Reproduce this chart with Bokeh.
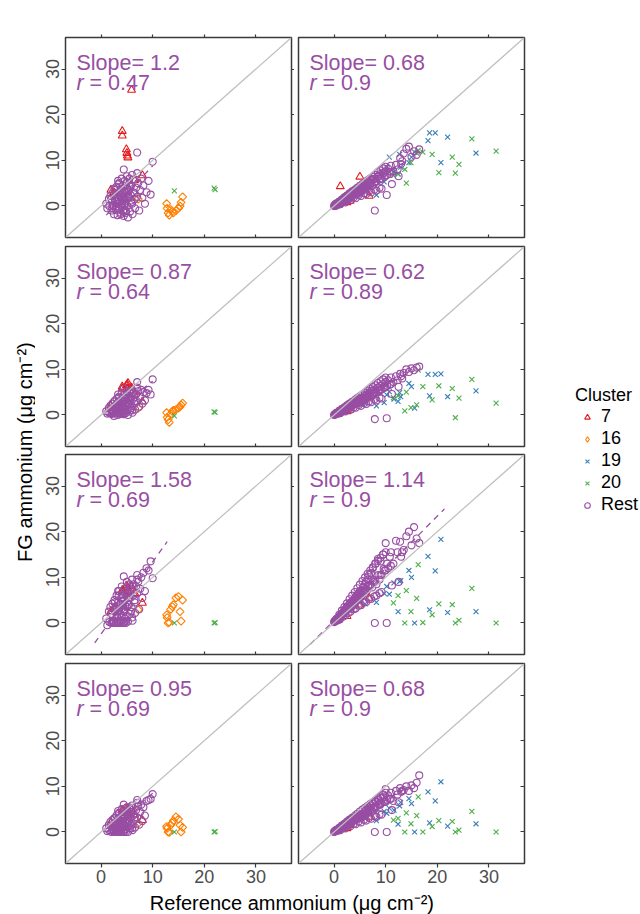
import math
from bokeh.plotting import figure
from bokeh.models import (Range1d, LinearAxis, FixedTicker, Label, Slope, Legend, LegendItem)
from bokeh.layouts import row, column
from bokeh.embed import file_html
from bokeh.resources import INLINE

FONT = "Liberation Sans"
PURPLE = "#984EA3"; RED = "#E41A1C"; ORANGE = "#FF7F00"; BLUE = "#377EB8"; GREEN = "#4DAF4A"
FRAME = "#3a3a3a"; TICKLAB = "#4D4D4D"

# ---------------- data ----------------
col_names = ["Urban", "Rural"]
methods = ["PLSr", "PLSbc", "PFo", "PFr"]
clusters = ["7", "16", "19", "20", "Rest"]

urban_slope_txt = ["1.2", "0.87", "1.58", "0.95"]
urban_r_txt = ["0.47", "0.64", "0.69", "0.69"]
rural_slope_txt = ["0.68", "0.62", "1.14", "0.68"]
rural_r_txt = ["0.9", "0.89", "0.9", "0.9"]

# regression lines (slope, intercept, x extent)
urban_fit_slope = [1.2, 0.87, 1.58, 0.95]
urban_fit_icpt = [-3.2, -1.3, -2.41, -1.0]
urban_fit_x0 = [1.0, 1.2, -1.24, 1.0]
urban_fit_x1 = [10.0, 10.0, 12.8, 10.0]
rural_fit_slope = [0.68, 0.62, 1.14, 0.68]
rural_fit_icpt = [0.3, 0.3, 0.6, 0.2]
rural_fit_x0 = [0.0, 0.0, -4.66, 0.0]
rural_fit_x1 = [14.0, 14.0, 21.4, 14.0]

# Urban, cluster "Rest"
u_rest_x = [1.0, 1.2, 1.5, 1.6, 1.8, 2.0, 2.1, 2.2, 2.3, 2.5,
            2.6, 2.7, 2.8, 3.0, 3.0, 3.1, 3.2, 3.3, 3.4, 3.5,
            3.5, 3.6, 3.7, 3.8, 3.9, 4.0, 4.0, 4.1, 4.2, 4.3,
            4.4, 4.5, 4.5, 4.6, 4.7, 4.8, 4.9, 5.0, 5.0, 5.1,
            5.2, 5.3, 5.4, 5.5, 5.6, 5.7, 5.8, 5.9, 6.0, 6.1,
            6.2, 6.3, 6.5, 6.6, 6.8, 7.0, 7.0, 7.2, 7.4, 7.6,
            7.8, 8.0, 8.2, 8.5, 8.8, 9.2, 9.6, 10.0, 4.4, 7.0,
            2.0, 2.4, 2.8, 3.2, 3.6, 4.0, 4.4, 4.8, 5.2, 5.6,
            2.2, 2.6, 3.0, 3.4, 3.8, 4.2, 4.6, 5.0, 5.4, 5.8,
            3.0, 3.5, 4.0, 4.5, 5.0, 5.5, 6.0, 6.5, 3.3, 4.3]
u_rest_plsr = [0.5, -0.5, 1.5, 0.0, 2.2, -1.0, 1.0, 2.8, 0.2, -1.8,
               3.5, 1.2, -0.8, 2.0, 4.2, 0.5, -2.0, 3.0, 1.5, -0.5,
               5.0, 2.5, 0.8, -1.5, 3.8, 1.8, 6.0, -0.2, 4.5, 2.2,
               -2.2, 3.2, 0.5, 5.5, 1.0, -1.0, 2.8, 4.0, 6.5, 0.0,
               -2.5, 3.5, 1.8, 5.0, -1.2, 2.5, 4.5, 0.8, 6.8, -1.8,
               3.0, 5.8, 1.5, -0.5, 4.0, 2.0, 7.2, 5.0, -1.0, 3.5,
               6.0, 1.8, 4.5, 0.5, 3.0, 5.5, 2.5, 9.7, 8.0, 11.7,
               1.5, 0.0, 2.5, -1.0, 3.0, 0.5, 1.8, -1.5, 2.2, 4.2,
               -0.5, 3.8, 1.0, 4.8, -1.8, 2.8, 0.2, 5.2, 3.2, 1.2,
               0.0, 1.5, 3.2, -0.8, 1.8, 6.0, 0.5, 2.8, 5.5, -1.2]
u_rest_plsbc = [0.8, 0.3, 1.5, 0.5, 2.0, 0.2, 1.2, 2.5, 0.8, -0.2,
                3.0, 1.5, 0.5, 2.2, 3.5, 1.0, 0.0, 2.8, 1.8, 0.6,
                4.0, 2.5, 1.2, 0.3, 3.2, 2.0, 4.8, 0.8, 3.8, 2.5,
                0.2, 3.0, 1.5, 4.5, 2.0, 0.8, 3.5, 2.8, 5.2, 1.2,
                0.0, 3.8, 2.5, 4.8, 1.0, 3.2, 4.2, 2.0, 5.5, 0.5,
                3.5, 5.0, 2.5, 1.2, 4.5, 3.0, 6.0, 5.2, 1.8, 4.0,
                5.5, 2.5, 5.0, 3.2, 4.8, 5.5, 4.5, 7.8, 5.8, 7.2,
                1.2, 0.6, 2.0, 0.3, 2.5, 1.0, 1.8, 0.4, 2.4, 3.8,
                0.4, 3.0, 1.0, 3.8, 0.2, 2.8, 0.8, 4.2, 3.2, 1.5,
                0.6, 1.6, 3.0, 0.5, 2.0, 5.0, 1.0, 3.0, 4.5, 0.2]
u_rest_pfo = [1.0, -0.5, 2.5, 0.2, 3.5, 0.0, 1.8, 4.2, 0.5, 0.0,
              5.0, 2.5, 0.0, 3.5, 6.0, 1.5, 0.2, 4.5, 2.8, 0.0,
              7.0, 4.0, 2.0, 0.3, 5.5, 3.2, 8.0, 0.5, 6.2, 4.2,
              0.0, 5.0, 2.5, 7.5, 3.8, 0.5, 6.0, 4.5, 9.0, 1.5,
              0.3, 6.5, 4.0, 8.0, 2.0, 5.5, 7.5, 3.5, 9.5, 0.5,
              6.0, 8.5, 4.5, 2.2, 8.0, 6.5, 10.5, 9.0, 3.0, 7.5,
              10.0, 5.5, 11.0, 7.0, 12.0, 11.5, 13.5, 9.8, 10.2, 9.5,
              2.0, 0.5, 3.2, 0.0, 4.0, 1.5, 3.0, 0.0, 4.0, 6.5,
              0.2, 4.5, 1.5, 6.0, 0.0, 4.8, 1.0, 7.0, 5.5, 2.5,
              0.5, 2.5, 5.5, 0.3, 3.5, 8.5, 1.2, 5.0, 7.0, 0.0]
u_rest_pfr = [0.8, 0.2, 1.5, 0.4, 2.2, 0.0, 1.0, 2.6, 0.6, 0.0,
              3.0, 1.4, 0.2, 2.0, 3.6, 0.8, 0.0, 2.8, 1.6, 0.4,
              4.2, 2.4, 1.0, 0.0, 3.2, 1.8, 5.0, 0.6, 3.8, 2.4,
              0.0, 3.0, 1.4, 4.6, 2.0, 0.6, 3.6, 2.8, 5.4, 1.0,
              0.0, 3.8, 2.4, 5.0, 0.8, 3.2, 4.4, 1.8, 5.8, 0.4,
              3.6, 5.2, 2.6, 1.0, 4.8, 3.2, 6.4, 5.6, 1.6, 4.4,
              6.0, 2.4, 5.4, 3.6, 6.8, 7.0, 7.2, 8.3, 6.0, 7.0,
              1.2, 0.4, 2.0, 0.0, 2.6, 0.8, 1.8, 0.0, 2.4, 4.0,
              0.2, 3.0, 0.8, 4.0, 0.0, 3.0, 0.6, 4.6, 3.4, 1.4,
              0.4, 1.6, 3.4, 0.2, 2.2, 5.4, 0.8, 3.2, 4.6, 0.0]

# Urban, cluster 7
u_c7_x = [5.9, 4.1, 4.1, 4.9, 5.0, 5.1, 5.2, 1.9, 6.5, 8.0, 2.5]
u_c7_plsr = [25.4, 16.4, 15.4, 12.4, 11.6, 11.0, 10.6, 3.5, 5.6, 6.7, 3.0]
u_c7_plsbc = [6.0, 5.8, 6.2, 6.5, 5.8, 6.6, 7.0, 2.0, 4.5, 2.9, 1.5]
u_c7_pfo = [8.0, 7.2, 6.8, 8.2, 7.5, 7.8, 7.0, 2.6, 6.5, 4.4, 3.2]
u_c7_pfr = [5.0, 4.6, 4.8, 5.2, 4.2, 4.8, 4.0, 2.0, 3.8, 2.6, 1.5]

# Urban, cluster 16
u_c16_x = [7.2, 12.7, 12.8, 13.0, 13.2, 13.5, 13.8, 14.0, 14.5, 15.0, 15.3, 15.5, 15.8]
u_c16_plsr = [1.5, 0.5, -0.5, -1.5, -2.0, -0.8, -1.2, -1.5, -1.0, -0.5, 0.0, 0.8, 2.0]
u_c16_plsbc = [1.5, 0.5, -0.5, -1.0, -1.6, 0.2, 0.8, 1.0, 1.2, 1.5, 1.8, 2.2, 2.6]
u_c16_pfo = [2.9, 1.8, 1.2, 0.0, 0.2, 3.0, 3.6, 4.0, 5.5, 5.8, 2.5, 0.4, 5.0]
u_c16_pfr = [1.9, 1.2, 0.8, 0.0, -0.1, 1.5, 2.0, 2.5, 3.3, 2.8, 1.5, 0.0, 1.0]

# Urban, cluster 19
u_c19_x = [4.5]
u_c19_plsr = [0.9]
u_c19_plsbc = [0.6]
u_c19_pfo = [3.3]
u_c19_pfr = [1.9]

# Urban, cluster 20
u_c20_x = [14.2, 21.9, 22.1]
u_c20_plsr = [3.3, 3.9, 3.6]
u_c20_plsbc = [-0.2, 0.7, 0.6]
u_c20_pfo = [0.0, 0.0, 0.1]
u_c20_pfr = [0.0, 0.0, 0.1]

# Rural, cluster "Rest"
r_rest_x = [0.0, 0.1, 0.2, 0.3, 0.3, 0.4, 0.5, 0.5, 0.6, 0.7,
            0.8, 0.9, 1.0, 1.0, 1.1, 1.2, 1.3, 1.4, 1.5, 1.5,
            1.6, 1.7, 1.8, 1.9, 2.0, 2.0, 2.1, 2.2, 2.3, 2.4,
            2.5, 2.5, 2.6, 2.7, 2.8, 2.9, 3.0, 3.0, 3.1, 3.2,
            3.3, 3.4, 3.5, 3.5, 3.6, 3.7, 3.8, 3.9, 4.0, 4.0,
            4.1, 4.2, 4.3, 4.4, 4.5, 4.6, 4.7, 4.8, 4.9, 5.0,
            5.0, 5.1, 5.2, 5.4, 5.5, 5.6, 5.8, 6.0, 6.0, 6.2,
            6.4, 6.5, 6.6, 6.8, 7.0, 7.2, 7.4, 7.5, 7.8, 8.0,
            8.2, 8.5, 8.8, 9.0, 9.2, 9.5, 9.8, 10.0, 10.3, 10.5,
            10.8, 11.0, 11.5, 12.0, 12.3, 12.8, 13.0, 13.5, 14.0, 14.5,
            15.0, 15.5, 16.0, 16.5, 7.9, 10.2,
            0.5, 1.0, 1.5, 2.0, 2.5, 3.0, 3.5, 4.0, 4.5, 5.0,
            5.5, 6.0, 6.5, 7.0, 7.5, 8.0, 8.5, 9.0, 9.5, 10.0,
            1.2, 2.2, 3.2, 4.2, 5.2, 6.2, 7.2, 8.2, 9.2, 11.2,
            0.8, 1.8, 2.8, 3.8, 4.8, 5.8, 6.8, 7.8, 8.8, 12.5,
            2.0, 3.0, 4.0, 5.0, 6.0, 7.0, 8.0, 9.0, 10.0, 11.0,
            1.4, 2.6, 3.6, 4.6, 5.6, 6.6, 7.6, 8.6, 9.6, 13.2]
r_rest_plsr = [0.0, 0.2, 0.0, 0.4, 0.1, 0.3, 0.5, 0.2, 0.5, 0.4,
               0.7, 0.5, 0.8, 0.4, 0.9, 0.6, 1.0, 0.8, 1.2, 0.7,
               1.3, 0.9, 1.5, 1.0, 1.6, 1.1, 1.8, 1.2, 1.7, 2.0,
               1.5, 2.2, 1.8, 2.0, 2.4, 1.6, 2.2, 2.6, 1.9, 2.5,
               2.8, 2.0, 2.6, 3.0, 2.2, 2.9, 2.5, 3.2, 2.6, 3.4,
               2.8, 3.3, 2.6, 3.6, 3.0, 3.4, 2.8, 3.8, 3.2, 3.5,
               4.0, 3.0, 3.8, 3.4, 4.2, 3.6, 4.0, 4.5, 3.6, 4.6,
               4.2, 5.0, 4.0, 5.2, 4.6, 5.6, 4.4, 5.8, 5.2, 6.0,
               5.4, 6.4, 5.8, 7.0, 6.0, 7.2, 6.4, 7.6, 6.8, 8.2,
               7.0, 8.8, 7.6, 9.0, 8.0, 10.5, 9.2, 11.5, 12.5, 13.0,
               10.8, 12.0, 11.2, 12.4, -1.0, 2.4,
               0.6, 1.0, 1.4, 1.9, 2.3, 2.8, 3.2, 3.6, 4.0, 4.4,
               4.8, 5.2, 5.6, 6.0, 6.4, 6.8, 7.4, 7.8, 8.2, 8.6,
               0.4, 0.8, 1.3, 1.7, 2.2, 2.6, 3.0, 3.4, 3.8, 4.8,
               0.3, 0.9, 1.4, 1.9, 2.4, 2.8, 3.2, 3.6, 4.0, 6.5,
               1.4, 2.0, 2.7, 3.4, 4.0, 4.7, 5.3, 6.0, 6.7, 7.5,
               1.1, 2.0, 2.8, 3.5, 4.3, 5.0, 5.8, 6.6, 7.2, 9.8]
r_rest_plsbc = [0.0, 0.1, 0.1, 0.3, 0.2, 0.3, 0.4, 0.3, 0.5, 0.4,
                0.6, 0.5, 0.7, 0.5, 0.8, 0.6, 0.9, 0.8, 1.0, 0.8,
                1.1, 0.9, 1.3, 1.0, 1.4, 1.1, 1.5, 1.2, 1.6, 1.7,
                1.4, 1.9, 1.6, 1.8, 2.0, 1.6, 2.0, 2.3, 1.8, 2.2,
                2.4, 1.9, 2.4, 2.7, 2.1, 2.6, 2.3, 2.8, 2.4, 3.0,
                2.6, 2.9, 2.5, 3.2, 2.8, 3.1, 2.6, 3.4, 3.0, 3.2,
                3.6, 2.9, 3.4, 3.2, 3.8, 3.3, 3.7, 4.2, 3.4, 4.3,
                3.9, 4.6, 3.8, 4.8, 4.3, 5.2, 4.2, 5.4, 4.8, 5.6,
                5.0, 6.0, 5.4, 6.4, 5.6, 6.8, 6.0, 7.2, 6.4, 7.6,
                6.6, 8.2, 7.2, 8.5, 7.6, 9.0, 8.5, 9.2, 10.0, 9.4,
                10.2, 9.8, 10.4, 10.6, -0.9, -0.7,
                0.5, 0.9, 1.3, 1.7, 2.1, 2.5, 2.9, 3.3, 3.7, 4.1,
                4.5, 4.9, 5.3, 5.7, 6.1, 6.5, 7.0, 7.4, 7.8, 8.2,
                0.4, 0.8, 1.2, 1.6, 2.0, 2.4, 2.8, 3.2, 3.6, 4.6,
                0.3, 0.8, 1.3, 1.7, 2.2, 2.6, 3.0, 3.4, 3.8, 6.2,
                1.2, 1.8, 2.5, 3.1, 3.7, 4.3, 4.9, 5.5, 6.1, 6.8,
                0.9, 1.6, 2.3, 3.0, 3.6, 4.2, 4.8, 5.4, 6.0, 8.0]
r_rest_pfo = [0.2, 0.3, 0.5, 0.4, 0.6, 0.5, 0.8, 0.7, 0.9, 1.0,
              1.0, 1.2, 1.3, 1.0, 1.5, 1.4, 1.6, 1.8, 1.7, 2.0,
              2.1, 1.9, 2.4, 2.2, 2.6, 2.8, 2.5, 3.0, 2.8, 3.2,
              2.8, 3.5, 3.0, 3.4, 3.8, 3.2, 3.6, 4.2, 3.5, 4.0,
              4.5, 3.6, 4.2, 4.8, 3.8, 4.6, 4.4, 5.0, 4.2, 5.4,
              4.6, 5.8, 4.8, 5.2, 6.0, 5.0, 6.4, 5.4, 6.8, 5.6,
              7.0, 5.8, 6.5, 7.2, 6.2, 7.8, 6.8, 8.5, 7.0, 9.0,
              7.2, 9.5, 8.0, 10.5, 8.4, 11.0, 7.8, 12.0, 9.0, 13.0,
              8.5, 14.0, 9.5, 13.5, 10.5, 15.0, 11.5, 17.5, 13.0, 12.0,
              14.5, 15.5, 13.0, 18.0, 15.5, 17.8, 14.5, 16.0, 19.0, 20.0,
              17.0, 21.0, 18.5, 17.5, 0.0, 0.0,
              0.9, 1.8, 2.7, 3.5, 4.3, 5.2, 6.0, 6.8, 7.6, 8.4,
              9.2, 10.0, 10.8, 11.5, 12.2, 13.0, 13.6, 14.3, 15.0, 15.5,
              0.9, 1.7, 2.5, 3.2, 3.9, 4.6, 5.3, 6.0, 6.8, 8.2,
              0.6, 1.4, 2.2, 3.0, 3.8, 4.5, 5.2, 5.8, 6.5, 9.0,
              2.3, 3.5, 4.6, 5.8, 7.0, 8.2, 9.3, 10.5, 11.5, 12.5,
              1.8, 3.2, 4.5, 5.8, 7.0, 8.2, 9.4, 10.5, 11.8, 15.5]
r_rest_pfr = [0.0, 0.1, 0.2, 0.3, 0.2, 0.3, 0.4, 0.3, 0.5, 0.5,
              0.6, 0.6, 0.7, 0.6, 0.8, 0.8, 0.9, 1.0, 1.1, 0.9,
              1.2, 1.1, 1.3, 1.2, 1.4, 1.5, 1.5, 1.4, 1.7, 1.8,
              1.6, 2.0, 1.8, 2.0, 2.2, 1.8, 2.2, 2.5, 2.0, 2.4,
              2.6, 2.1, 2.6, 2.9, 2.3, 2.8, 2.6, 3.1, 2.6, 3.2,
              2.8, 3.2, 2.8, 3.5, 3.0, 3.4, 2.9, 3.7, 3.2, 3.5,
              3.8, 3.1, 3.6, 3.4, 4.0, 3.6, 4.0, 4.6, 3.6, 4.8,
              4.2, 5.0, 4.2, 5.4, 4.8, 5.8, 4.6, 6.2, 5.4, 6.6,
              5.6, 7.0, 6.0, 7.4, 6.4, 7.6, 6.6, 9.4, 7.0, 8.0,
              7.2, 8.6, 6.8, 9.0, 8.2, 9.6, 8.8, 9.2, 10.0, 9.0,
              10.2, 9.6, 10.8, 12.4, 0.0, 0.0,
              0.5, 0.9, 1.4, 1.8, 2.3, 2.7, 3.1, 3.6, 4.0, 4.5,
              4.9, 5.3, 5.7, 6.1, 6.5, 6.9, 7.4, 7.8, 8.2, 8.6,
              0.4, 0.8, 1.3, 1.7, 2.1, 2.5, 2.9, 3.3, 3.8, 4.8,
              0.3, 0.8, 1.3, 1.8, 2.3, 2.7, 3.1, 3.5, 3.9, 6.5,
              1.3, 2.0, 2.7, 3.3, 4.0, 4.6, 5.3, 6.0, 6.6, 7.3,
              1.0, 1.8, 2.5, 3.2, 3.9, 4.6, 5.3, 6.0, 6.6, 9.0]

# Rural, cluster 7
r_c7_x = [1.2, 5.0, 6.8, 3.1, 0.8, 2.5]
r_c7_plsr = [4.3, 6.4, 2.2, 1.1, 0.2, 0.8]
r_c7_plsbc = [1.0, 2.5, 3.8, 1.1, 0.3, 0.8]
r_c7_pfo = [1.8, 4.0, 5.5, 2.9, 0.6, 1.5]
r_c7_pfr = [1.0, 3.0, 3.3, 1.5, 0.3, 0.8]

# Rural, cluster 16 (none)
r_c16_x = []
r_c16_plsr = []
r_c16_plsbc = []
r_c16_pfo = []
r_c16_pfr = []

# Rural, cluster 19
r_c19_x = [18.5, 19.6, 18.2, 22.0, 20.7, 27.5, 10.7, 12.7, 15.6, 15.0, 10.2, 11.6, 8.2, 9.7, 12.9, 12.4, 14.5, 6.0]
r_c19_plsr = [16.0, 16.0, 14.3, 15.1, 9.5, 11.6, 10.7, 11.3, 11.8, 10.7, 8.5, 7.5, 2.4, 5.3, 8.5, 7.0, 9.5, 4.0]
r_c19_plsbc = [4.2, 8.9, 8.9, 4.0, 9.0, 5.3, 5.1, 4.9, 1.5, 6.2, 4.4, 3.5, 2.0, 2.7, 4.0, 3.0, 6.9, 2.5]
r_c19_pfo = [2.9, 11.4, 14.6, 2.3, 18.3, 2.5, 6.3, 9.1, 0.0, 10.0, 8.0, 8.8, 4.5, 6.5, 9.3, 2.5, 11.5, 4.2]
r_c19_pfr = [2.0, 6.8, 8.8, 1.3, 11.0, 1.8, 5.2, 5.7, 0.0, 6.2, 4.1, 4.8, 2.5, 4.5, 6.5, 1.7, 7.3, 3.0]

# Rural, cluster 20
r_c20_x = [16.3, 17.2, 16.0, 19.0, 22.9, 24.2, 23.5, 20.3, 26.7, 31.4, 14.0, 12.4, 11.5, 13.7, 14.9]
r_c20_plsr = [12.2, 11.8, 11.6, 11.3, 10.7, 9.1, 7.2, 7.3, 14.7, 12.0, 5.0, 7.1, 6.7, 8.0, 9.5]
r_c20_plsbc = [9.8, 6.2, 2.2, 3.3, 5.8, 3.7, -0.6, 6.4, 7.8, 2.6, 5.0, 4.2, 3.8, 0.9, 1.6]
r_c20_pfo = [12.8, 0.1, 5.4, 1.8, 4.0, 0.6, 0.0, 4.2, 7.6, 0.0, 7.1, 6.0, 4.4, 0.0, 2.5]
r_c20_pfr = [7.7, 0.0, 3.6, 1.2, 2.3, 0.4, 0.0, 2.5, 4.5, 0.0, 4.2, 3.0, 2.6, 0.0, 1.8]

axis_ticks = [0, 10, 20, 30]

# ---------------- assemble ----------------
data = {
    "Urban": {
        "7": (u_c7_x, [u_c7_plsr, u_c7_plsbc, u_c7_pfo, u_c7_pfr]),
        "16": (u_c16_x, [u_c16_plsr, u_c16_plsbc, u_c16_pfo, u_c16_pfr]),
        "19": (u_c19_x, [u_c19_plsr, u_c19_plsbc, u_c19_pfo, u_c19_pfr]),
        "20": (u_c20_x, [u_c20_plsr, u_c20_plsbc, u_c20_pfo, u_c20_pfr]),
        "Rest": (u_rest_x, [u_rest_plsr, u_rest_plsbc, u_rest_pfo, u_rest_pfr]),
    },
    "Rural": {
        "7": (r_c7_x, [r_c7_plsr, r_c7_plsbc, r_c7_pfo, r_c7_pfr]),
        "16": (r_c16_x, [r_c16_plsr, r_c16_plsbc, r_c16_pfo, r_c16_pfr]),
        "19": (r_c19_x, [r_c19_plsr, r_c19_plsbc, r_c19_pfo, r_c19_pfr]),
        "20": (r_c20_x, [r_c20_plsr, r_c20_plsbc, r_c20_pfo, r_c20_pfr]),
        "Rest": (r_rest_x, [r_rest_plsr, r_rest_plsbc, r_rest_pfo, r_rest_pfr]),
    },
}
stats = {"Urban": (urban_slope_txt, urban_r_txt), "Rural": (rural_slope_txt, rural_r_txt)}
fits = {"Urban": (urban_fit_slope, urban_fit_icpt, urban_fit_x0, urban_fit_x1),
        "Rural": (rural_fit_slope, rural_fit_icpt, rural_fit_x0, rural_fit_x1)}

style = {
    "7": dict(marker="triangle", size=8, line_color=RED, angle=0.0),
    "16": dict(marker="square", size=5.6, line_color=ORANGE, angle=math.pi / 4),
    "19": dict(marker="x", size=7, line_color=BLUE, angle=0.0),
    "20": dict(marker="x", size=7, line_color=GREEN, angle=0.0),
    "Rest": dict(marker="circle", size=7, line_color=PURPLE, angle=0.0),
}
legend_marker = {"7": "triangle", "16": "diamond", "19": "x", "20": "x", "Rest": "circle"}

LO, HI = -6.9, 36.9
FW, FH = 226, 200
col_border = [(30, 3), (4, 36)]
row_border = [(37, 4), (5, 4), (4, 4), (5, 25)]
PXX = FW / (HI - LO)
PXY = FH / (HI - LO)


def add_axis(p, side, tin, tout, labels=False):
    ax = LinearAxis(ticker=FixedTicker(ticks=axis_ticks))
    ax.major_tick_in = tin
    ax.major_tick_out = tout
    ax.minor_tick_line_color = None
    ax.major_tick_line_color = FRAME
    ax.major_tick_line_width = 1.2
    ax.axis_line_color = None
    if labels:
        ax.major_label_text_font = FONT
        ax.major_label_text_font_size = "18px"
        ax.major_label_text_color = TICKLAB
        ax.major_label_standoff = 2
        if side == "left":
            ax.major_label_orientation = "vertical"
    else:
        ax.major_label_text_font_size = "0px"
        ax.major_label_text_color = None
        ax.major_label_standoff = 0
    p.add_layout(ax, side)


def make_panel(ci, ri):
    cname = col_names[ci]
    left, right = col_border[ci]
    top, bottom = row_border[ri]
    p = figure(width=left + FW + right, height=top + FH + bottom,
               x_range=Range1d(LO, HI), y_range=Range1d(LO, HI),
               x_axis_type=None, y_axis_type=None,
               output_backend="svg", toolbar_location=None,
               min_border_left=left, min_border_right=right,
               min_border_top=top, min_border_bottom=bottom)
    p.outline_line_color = FRAME
    p.outline_line_width = 1.5
    p.background_fill_color = "white"
    p.border_fill_color = "white"

    # axes / ticks
    add_axis(p, "left", 0, 0 if ci == 1 else 4, labels=(ci == 0))
    add_axis(p, "right", 4 if ci == 1 else 0, 0 if ci == 1 else 3)
    add_axis(p, "below", 0 if ri == 3 else 3, 4 if ri == 3 else 0, labels=(ri == 3))
    if ri == 0:
        add_axis(p, "above", 0, 3)

    # 1:1 line
    p.add_layout(Slope(gradient=1, y_intercept=0, line_color="#BEBEBE", line_width=1.2))

    # regression line
    fs, fi, fx0, fx1 = fits[cname]
    lx = [fx0[ri], fx1[ri]]
    ly = [fs[ri] * v + fi[ri] for v in lx]
    p.line(lx, ly, line_color=PURPLE, line_width=1.3, line_dash="6 5")

    for cl in clusters:
        xs, ys = data[cname][cl]
        st = style[cl]
        p.scatter(xs, ys[ri], marker=st["marker"], size=st["size"], angle=st["angle"],
                  line_color=st["line_color"], fill_color=None, line_width=1.1)

    # statistics text
    st_txt, r_txt = stats[cname]
    x_text = LO + 11 / PXX
    y1 = HI - 25.7 / PXY
    y2 = HI - 45.7 / PXY
    p.add_layout(Label(x=x_text, y=y1, text="Slope= " + st_txt[ri], text_font=FONT,
                       text_font_size="21.5px", text_color=PURPLE, text_baseline="alphabetic"))
    p.add_layout(Label(x=x_text, y=y2, text="r", text_font=FONT, text_font_style="italic",
                       text_font_size="21.5px", text_color=PURPLE, text_baseline="alphabetic"))
    p.add_layout(Label(x=LO + 24 / PXX, y=y2, text="= " + r_txt[ri], text_font=FONT,
                       text_font_size="21.5px", text_color=PURPLE, text_baseline="alphabetic"))

    # strip labels
    if ri == 0:
        p.add_layout(Label(x=(LO + HI) / 2, y=HI + 14 / PXY, text=cname, text_font=FONT,
                           text_font_size="18px", text_color="black",
                           text_align="center", text_baseline="middle"))
    if ci == 1:
        p.add_layout(Label(x=HI + 16 / PXX, y=(LO + HI) / 2, text=methods[ri], text_font=FONT,
                           text_font_size="18px", text_color="black", angle=math.pi / 2,
                           text_align="center", text_baseline="middle"))
    return p


panels = [[make_panel(ci, ri) for ci in range(2)] for ri in range(4)]

# y title
ytf = figure(width=35, height=914, x_range=Range1d(0, 35), y_range=Range1d(0, 914),
             x_axis_type=None, y_axis_type=None, output_backend="svg", toolbar_location=None,
             min_border=0, outline_line_color=None)
ytf.add_layout(Label(x=24, y=468, text="FG ammonium (\u03bcg   cm\u207b\u00b2)", text_font=FONT,
                     text_font_size="20px", angle=math.pi / 2, text_align="center",
                     text_baseline="middle", text_color="black"))

# x title
xtf = figure(width=525, height=26, x_range=Range1d(0, 525), y_range=Range1d(0, 26),
             x_axis_type=None, y_axis_type=None, output_backend="svg", toolbar_location=None,
             min_border=0, outline_line_color=None)
xtf.add_layout(Label(x=262, y=12, text="Reference ammonium (\u03bcg   cm\u207b\u00b2)", text_font=FONT,
                     text_font_size="20px", text_align="center", text_baseline="middle",
                     text_color="black"))

# legend figure (its renderers hold the urban data, kept outside the visible range)
lf = figure(width=80, height=914, x_range=Range1d(1000, 1001), y_range=Range1d(1000, 1001),
            x_axis_type=None, y_axis_type=None, output_backend="svg", toolbar_location=None,
            min_border=0, outline_line_color=None)
items = []
for cl in clusters:
    xs, ys = data["Urban"][cl]
    st = style[cl]
    rr = lf.scatter(xs, ys[0], marker=legend_marker[cl], size=st["size"],
                    line_color=st["line_color"], fill_color=None, line_width=1.1)
    items.append(LegendItem(label=cl, renderers=[rr]))
leg = Legend(items=items, location=(15, 399), title="Cluster",
             title_text_font=FONT, title_text_font_size="18px", title_text_font_style="normal",
             title_text_color="black", title_standoff=0,
             label_text_font=FONT, label_text_font_size="18px", label_text_color="black",
             glyph_width=24, glyph_height=14, label_height=21, label_standoff=2,
             spacing=1, padding=0, margin=0, border_line_color=None, background_fill_alpha=0)
lf.add_layout(leg)

grid = column(*[row(panels[ri][0], panels[ri][1]) for ri in range(4)], xtf)
layout = row(ytf, grid, lf)

open("out.html", "w").write(file_html(layout, INLINE))
